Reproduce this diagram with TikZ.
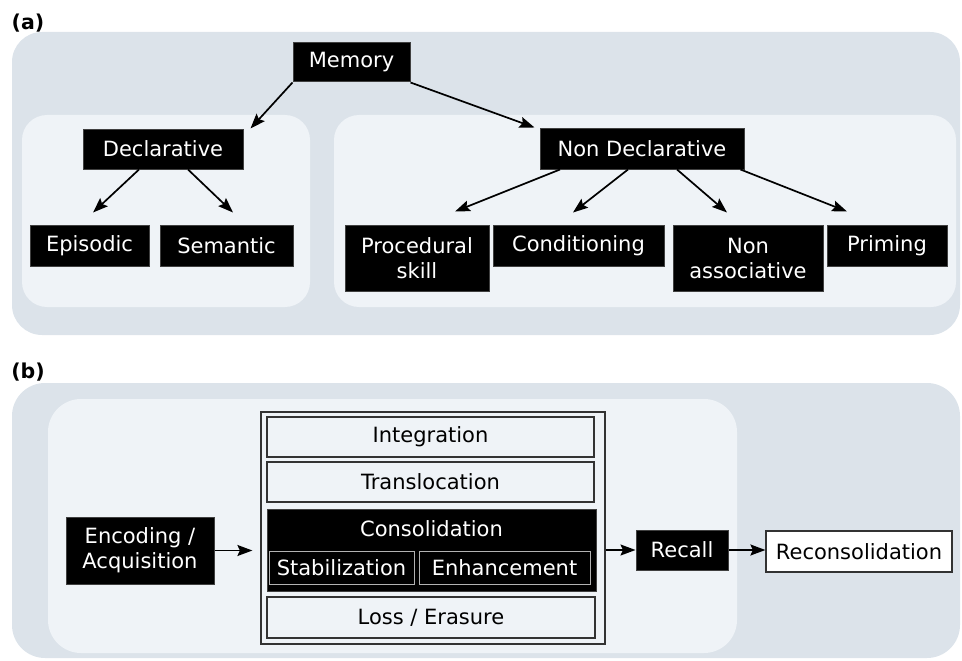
\documentclass[tikz,border=0pt]{standalone}
\usepackage{fontspec}
\setmainfont{DejaVu Sans}
\usetikzlibrary{arrows.meta}
\definecolor{panelgray}{RGB}{220,227,234}
\definecolor{panellight}{RGB}{239,243,247}
\newcommand\boxfont{\fontsize{21}{25}\selectfont}
\newcommand\tagfont{\fontsize{20.5}{24}\selectfont\bfseries}

\begin{document}
\begin{tikzpicture}[x=1pt,y=-1pt,
  blk/.style={draw=black!75, line width=1pt, fill=black, text=white,
    inner sep=0pt, align=center, font=\boxfont},
  subblk/.style={draw=black!30, line width=1pt, fill=black, text=white,
    inner sep=0pt, align=center, font=\boxfont},
  wht/.style={draw=black!80, line width=1.2pt, text=black,
    inner sep=0pt, align=center, font=\boxfont},
  tag/.style={inner sep=0pt, font=\tagfont},
  arr/.style={-{Stealth[length=15pt,width=11pt,inset=2.5pt]}, line width=1.7pt},
  box/.style 2 args={minimum width=#1pt, minimum height=#2pt}]
\useasboundingbox (0,0) rectangle (962,661);

% ---------- (a) memory taxonomy ----------
\fill[panelgray, rounded corners=30pt] (12,32) rectangle (960,335);
\fill[panellight, rounded corners=25pt] (22,115) rectangle (310,307);
\fill[panellight, rounded corners=25pt] (334,115) rectangle (956,307);
\node[tag] (taga) at (28,23) {(a)};

\node[blk, box={117}{39}] (mem)  at (351.5,62.5) {Memory};
\node[blk, box={160}{40}] (decl) at (163,149)    {Declarative};
\node[blk, box={204}{41}] (nond) at (642,148.5)  {Non Declarative};
\node[blk, box={119}{41}] (epi)  at (89.5,245.5) {Episodic};
\node[blk, box={133}{41}] (sem)  at (226.5,245.5){Semantic};
\node[blk, box={144}{66}] (proc) at (417,258)    {Procedural\\skill};
\node[blk, box={171}{41}] (cond) at (578.5,245.5){Conditioning};
\node[blk, box={150}{66}] (nass) at (748,258)    {Non\\associative};
\node[blk, box={120}{41}] (prim) at (887,245.5)  {Priming};

\draw[arr] (mem.south west) -- ([xshift=7pt]decl.north east);
\draw[arr] (mem.south east) -- ([xshift=-5pt]nond.north west);
\draw[arr] ([xshift=-24pt]decl.south) -- ([xshift=3.5pt,yshift=12pt]epi.north);
\draw[arr] ([xshift=25pt]decl.south)  -- ([xshift=6.5pt,yshift=12pt]sem.north);
\draw[arr] ([xshift=-82pt]nond.south) -- ([xshift=38pt,yshift=13pt]proc.north);
\draw[arr] ([xshift=-14pt]nond.south) -- ([xshift=-5.5pt,yshift=12pt]cond.north);
\draw[arr] ([xshift=35pt]nond.south)  -- ([xshift=-21pt,yshift=12pt]nass.north);
\draw[arr] ([xshift=-4pt]nond.south east) -- ([xshift=-40pt,yshift=13pt]prim.north);

% ---------- (b) memory processes ----------
\fill[panelgray, rounded corners=33pt] (12,383) rectangle (960,658);
\fill[panellight, rounded corners=33pt] (48,399) rectangle (737,653);
\node[tag] (tagb) at (28,372) {(b)};

\node[blk, box={148}{67}] (enc) at (140,550.5) {Encoding /\\Acquisition};

\node[wht, box={344}{232}] (cont) at (433,528) {};
\node[wht, box={327}{40}] (integ) at (430.5,437) {Integration};
\node[wht, box={327}{40}] (trans) at (430.5,482) {Translocation};
\node[blk, box={329}{82}] (cons)  at (431.5,550) {};
\node[text=white, font=\boxfont, inner sep=0pt] (constitle) at (431.5,529) {Consolidation};
\node[subblk, box={145}{33}] (stab) at (341.5,567.5) {Stabilization};
\node[subblk, box={171}{33}] (enh)  at (504.5,567.5) {Enhancement};
\node[wht, box={328}{41}] (loss) at (431,617.5) {Loss / Erasure};

\node[blk, box={92}{40}] (recall) at (682,550) {Recall};
\node[wht, fill=white, box={186}{41}] (recon) at (859,551.5) {Reconsolidation};

\draw[arr] (enc.east) -- ([xshift=-8pt]cont.west |- enc.east);
\draw[arr] (cont.east |- recall.west) -- (recall.west);
\draw[arr] (recall.east) -- (recon.west |- recall.east);
\end{tikzpicture}
\end{document}
